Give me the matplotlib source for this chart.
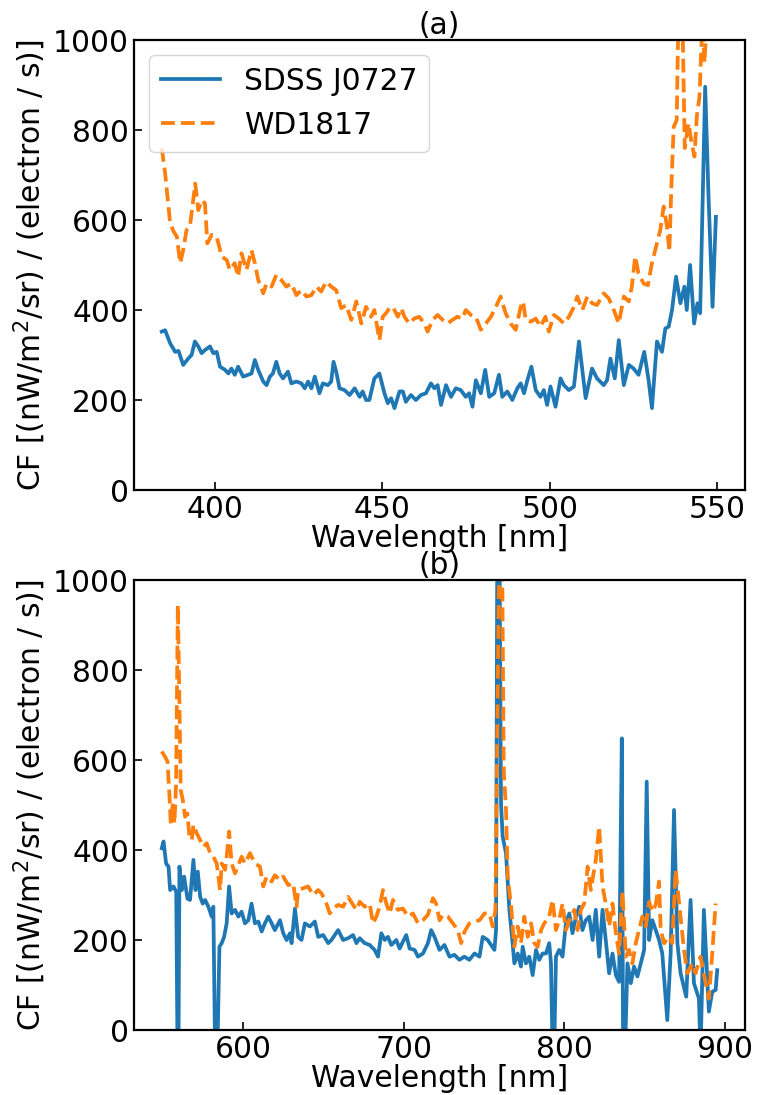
"""
Conversion factor spectra for two calibration stars, panels (a) and (b)
"""

import matplotlib
matplotlib.use('Agg')

import matplotlib.pyplot as plt

plt.rcParams['font.family'] = ['DejaVu Sans']
plt.rcParams['font.size'] = 21.4

# ---- panel (a): blue arm ----
wl_a_sdss = [384.1, 385.1, 386.6, 388.1, 389.1, 390.5, 392.0, 393.0, 394.0, 395.0,
             396.0, 397.0, 398.5, 399.5, 400.5, 401.5, 403.0, 404.0, 404.9, 405.9,
             406.9, 408.4, 409.9, 410.9, 411.9, 412.9, 414.4, 415.4, 416.4, 417.3,
             418.3, 419.3, 420.3, 421.8, 422.8, 424.3, 425.8, 426.8, 427.8, 428.8,
             429.8, 431.2, 432.2, 433.7, 434.7, 435.4, 436.2, 437.2, 438.7, 440.2,
             441.7, 443.2, 444.1, 445.1, 446.1, 447.6, 449.1,
             450.6, 451.6, 452.6, 453.6, 455.1, 456.1, 457.0, 458.5, 460.0, 461.5,
             463.0, 464.5, 465.5, 466.5, 467.5, 469.0, 470.5, 471.9, 473.4, 474.9,
             475.9, 476.9, 477.9, 479.4, 480.7, 481.9, 483.4, 484.8, 485.8, 487.3,
             488.8, 490.3, 491.3, 492.3, 493.3, 494.5, 495.8, 497.2, 498.2, 499.2,
             500.2, 501.7, 503.2, 504.2, 505.7, 507.2, 508.7, 510.7, 512.6, 514.1,
             516.1, 517.1, 518.1, 519.4, 520.6, 522.1, 523.6, 525.0, 526.5, 528.2,
             529.5, 530.5, 532.0, 533.5, 534.5, 535.5, 536.5, 537.7, 539.0, 540.2,
             540.9, 541.9, 543.1, 544.1, 544.9, 546.4, 547.4, 548.6, 549.6]
cf_a_sdss = [352, 355, 326, 307, 309, 278, 292, 300, 330, 319,
             304, 311, 319, 304, 307, 274, 267, 259, 270, 256,
             274, 252, 256, 259, 289, 267, 241, 233, 252, 259,
             285, 259, 248, 263, 237, 241, 237, 226, 241, 226,
             252, 215, 237, 233, 241, 285, 263, 226, 222, 211,
             226, 207, 219, 200, 200, 248, 259,
             215, 193, 204, 182, 219, 219, 196, 211, 200, 211,
             215, 237, 226, 233, 189, 233, 207, 226, 222, 207,
             215, 185, 244, 215, 267, 207, 215, 256, 207, 219,
             200, 226, 237, 215, 244, 274, 222, 207, 222, 189,
             230, 185, 248, 233, 222, 230, 330, 204, 270, 248,
             233, 244, 292, 248, 333, 233, 278, 270, 256, 307,
             244, 182, 330, 307, 359, 363, 400, 474, 415, 452,
             400, 500, 370, 415, 393, 896, 652, 407, 607]

wl_a_wd = [384.1, 385.1, 385.8, 386.6, 387.6, 388.6, 389.6, 390.5, 391.5, 392.5,
           393.5, 394.1, 395.0, 396.0, 397.0, 397.7, 399.0, 400.5, 402.0, 403.5,
           404.4, 405.9, 406.9, 407.9, 409.4, 410.9, 411.9, 412.9, 414.4, 415.4,
           416.9, 418.3, 419.8, 421.3, 422.8, 424.3, 425.8, 427.3, 428.8, 430.3,
           431.7, 433.2, 434.7, 436.2, 437.7, 439.2, 440.7, 442.2, 443.7, 445.1,
           446.6, 447.6,
           449.1, 450.1, 451.1, 452.1, 453.1, 454.6, 455.6, 456.6, 458.0, 459.5,
           461.0, 462.5, 463.5, 465.0, 466.5, 468.0, 469.5, 470.9, 472.4, 473.9,
           474.9, 476.4, 477.9, 479.4, 480.9, 482.4, 483.9, 485.3, 486.8, 488.3,
           489.8, 491.3, 492.0, 492.8, 494.3, 495.8, 497.2, 498.7, 499.7, 501.2,
           502.7, 504.2, 505.7, 507.2, 508.2, 509.7, 511.2, 512.6, 514.1,
           516.1, 517.6, 519.1, 520.6, 522.1, 523.6, 524.5, 525.5, 526.5, 528.0,
           529.3, 530.5, 532.0, 533.0, 534.0, 535.0, 535.7, 536.3, 537.0, 537.9,
           538.5, 539.5, 540.3, 541.4, 542.4, 543.2, 543.9, 544.7, 545.6, 546.2,
           546.9, 547.6, 550.0]
cf_a_wd = [760, 704, 652, 593, 575, 563, 504, 533, 578, 585,
           644, 681, 622, 644, 637, 548, 567, 563, 519, 511,
           489, 504, 474, 526, 489, 533, 504, 467, 437, 459,
           452, 478, 467, 452, 459, 433, 444, 430, 433, 452,
           441, 463, 452, 444, 404, 411, 378, 419, 370, 407,
           385, 400,
           333, 385, 393, 404, 407, 385, 404, 385, 370, 381,
           385, 370, 352, 378, 389, 378, 370, 378, 385, 381,
           400, 389, 385, 356, 370, 385, 407, 430, 393, 370,
           356, 407, 419, 378, 374, 381, 363, 385, 352, 389,
           381, 370, 385, 407, 430, 400, 430, 415, 411,
           437, 426, 400, 370, 430, 419, 452, 519, 481, 459,
           455, 504, 548, 578, 630, 585, 530, 674, 807, 822,
           1100, 1100, 760, 815, 770, 741, 830, 874, 1050, 950,
           1050, 1100, 1150]

# ---- panel (b): red arm ----
wl_b_sdss = [549.5, 550.6, 552.2, 553.7, 554.7, 556.8, 558.5, 559.3, 559.9, 560.5,
             562.0, 563.4, 565.5, 567.1, 569.2, 570.5, 571.9, 573.4, 575.0, 576.5,
             578.5, 580.6, 581.6, 582.7, 584.1, 585.4, 586.8, 588.3, 589.9, 591.4,
             593.0, 595.1, 597.2, 599.2, 601.3, 603.4, 605.4, 607.5, 609.6, 611.7,
             613.7, 615.8, 617.9, 619.9, 623.1, 625.1, 627.2, 629.3, 630.3, 632.4,
             634.4, 636.5, 638.6, 641.7, 644.8, 646.9, 650.0, 653.1, 655.1, 659.3,
             662.4, 665.5, 668.6, 670.7, 672.7, 675.8,
             678.9, 682.0, 684.1, 686.2, 688.3, 690.3, 692.4, 695.5, 697.6, 699.6,
             701.7, 703.8, 706.9, 709.0, 712.1, 715.2, 717.2, 719.3, 722.4, 725.5,
             728.6, 731.7, 734.8, 737.9, 741.0, 744.2, 747.3, 749.3, 752.4, 754.5,
             756.6, 757.6, 758.4, 759.7, 760.7, 761.7, 763.8, 765.9, 767.9, 769.0,
             771.1, 773.1, 774.2, 776.2, 778.3, 780.4, 782.5, 784.5, 786.6, 788.7,
             790.7, 791.8, 792.8, 793.8, 794.9, 796.9, 799.0, 801.1, 803.2, 805.2,
             807.3, 809.4, 811.4, 813.5, 815.6, 817.7, 819.7,
             821.8, 823.9, 825.9, 828.0, 830.1, 832.2, 834.2, 835.9, 836.7, 837.9,
             839.4, 841.5, 843.5, 845.6, 847.7, 849.8, 851.4, 852.9, 854.9, 857.0,
             859.1, 861.1, 864.2, 866.3, 868.4, 870.5, 872.5, 876.0, 878.7, 880.8,
             883.9, 884.9, 887.0, 890.1, 892.2, 894.3, 895.3]
cf_b_sdss = [404, 419, 370, 363, 311, 319, 307, -50, -50, 363,
             311, 341, 292, 289, 378, 311, 352, 296, 281, 289,
             274, 252, 274, -50, -50, 185, 193, 207, 237, 319,
             259, 267, 252, 263, 237, 244, 281, 237, 241, 219,
             237, 252, 237, 222, 244, 215, 200, 215, 193, 270,
             207, 200, 237, 230, 241, 207, 211, 193, 200, 222,
             200, 204, 211, 193, 204, 193,
             189, 178, 163, 215, 200, 207, 189, 200, 181, 196,
             211, 181, 178, 163, 170, 193, 222, 207, 178, 189,
             163, 167, 156, 163, 156, 170, 163, 207, 200, 189,
             178, 222, 1100, 1100, 504, 430, 393, 267, 193, 148,
             170, 141, 185, 148, 163, 122, 178, 156, 170, 170,
             193, 148, -50, -50, 163, 178, 163, 237, 259, 215,
             252, 274, 222, 244, 252, 200, 267,
             163, 267, 200, 126, 170, 122, 107, 648, -50, -50,
             148, 104, 141, 119, 148, 178, 552, 200, 244, 222,
             200, 170, 22, 170, 489, 193, 126, 74, 289, 104,
             70, -50, 267, 41, 85, 89, 133]

wl_b_wd = [549.5, 551.6, 553.1, 554.3, 555.1, 556.4, 557.4, 558.4, 559.5, 560.5,
           561.3, 562.6, 564.0, 565.5, 566.7, 568.2, 569.2, 571.3, 573.4, 575.4,
           577.5, 579.6, 581.6, 583.7, 585.8, 586.8, 588.9, 589.9, 591.4, 593.0,
           595.1, 597.2, 599.2, 601.3, 604.4, 607.5, 610.6, 612.7, 614.8, 617.9,
           619.9, 623.1, 625.1, 628.2, 631.3, 633.4, 634.4, 637.5, 640.6, 643.7,
           646.9, 648.9, 652.0, 654.1, 656.2, 659.3, 662.4, 665.5, 668.6, 670.7,
           672.7, 675.8,
           678.9, 681.0, 683.1, 685.1, 687.2, 689.3, 691.4, 693.4, 696.5, 699.6,
           702.8, 705.9, 709.0, 712.1, 715.2, 718.3, 720.3, 722.4, 724.5, 727.6,
           730.7, 733.8, 735.9, 738.0, 741.0, 744.2, 747.3, 750.4, 753.5, 755.5,
           757.2, 759.7, 761.3, 762.4, 763.8, 764.9, 767.0, 769.0, 771.1, 773.1,
           775.2, 777.3, 779.4, 781.4, 783.5, 785.6, 787.6, 790.7, 792.8, 794.9,
           796.9, 799.0, 801.1, 803.2, 806.3, 808.3, 810.4, 812.5, 814.6, 816.6,
           819.7, 821.8,
           823.9, 825.9, 828.0, 830.1, 832.2, 834.2, 836.3, 838.4, 840.4, 842.5,
           844.6, 846.6, 848.7, 850.8, 852.9, 854.9, 857.0, 859.1, 860.1, 862.2,
           865.3, 867.3, 869.4, 871.5, 874.6, 876.7, 879.8, 881.8, 884.9, 888.1,
           890.1, 892.2, 894.3]
cf_b_wd = [619, 607, 596, 519, 459, 504, 459, 548, 944, 726,
           533, 511, 474, 481, 430, 422, 456, 437, 422, 407,
           415, 393, 385, 370, 311, 370, 356, 385, 441, 370,
           348, 367, 385, 370, 393, 370, 363, 319, 341, 330,
           344, 333, 341, 322, 326, 274, 311, 315, 319, 300,
           311, 304, 281, 259, 270, 278, 274, 296, 278, 267,
           285, 274,
           281, 237, 252, 274, 311, 281, 259, 289, 267, 270,
           252, 259, 237, 244, 256, 293, 281, 244, 256, 252,
           237, 222, 193, 219, 237, 241, 244, 259, 259, 230,
           267, 1100, 1100, 578, 489, 341, 274, 185, 230, 193,
           252, 207, 237, 193, 185, 222, 237, 252, 289, 222,
           244, 281, 222, 244, 267, 222, 267, 281, 363, 311,
           378, 452,
           319, 281, 230, 281, 215, 170, 307, 163, 178, 148,
           193, 222, 252, 230, 285, 263, 278, 330, 222, 193,
           207, 193, 356, 285, 178, 126, 148, 126, 163, 104,
           70, 170, 281]

labels = ['SDSS J0727', 'WD1817']
titles = ['(a)', '(b)']
ylabel = 'CF [(nW/m$^2$/sr) / (electron / s)]'

fig = plt.figure(figsize=(7.58, 10.95), dpi=100)
ax_a = fig.add_axes([134 / 758, 1 - 490 / 1095, 611 / 758, 450 / 1095])
ax_b = fig.add_axes([134 / 758, 1 - 1030 / 1095, 611 / 758, 450 / 1095])

panels = [
    (ax_a, wl_a_sdss, cf_a_sdss, wl_a_wd, cf_a_wd),
    (ax_b, wl_b_sdss, cf_b_sdss, wl_b_wd, cf_b_wd),
]

for i, (ax, wl1, cf1, wl2, cf2) in enumerate(panels):
    ax.plot(wl1, cf1, color='C0', lw=2.7, label=labels[0])
    ax.plot(wl2, cf2, color='C1', lw=2.7, ls='--', label=labels[1])
    ax.set_ylim(0, 1000)
    ax.set_title(titles[i], fontsize=21.4, pad=3)
    ax.set_xlabel('Wavelength [nm]', labelpad=0)
    ax.set_ylabel(ylabel)
    ax.tick_params(direction='in', length=6, width=1.2)
    for spine in ax.spines.values():
        spine.set_linewidth(1.6)

ax_a.set_xticks([400, 450, 500, 550])
ax_b.set_xticks([600, 700, 800, 900])
ax_a.legend(loc='upper left')

fig.savefig('out.png', dpi=100)
